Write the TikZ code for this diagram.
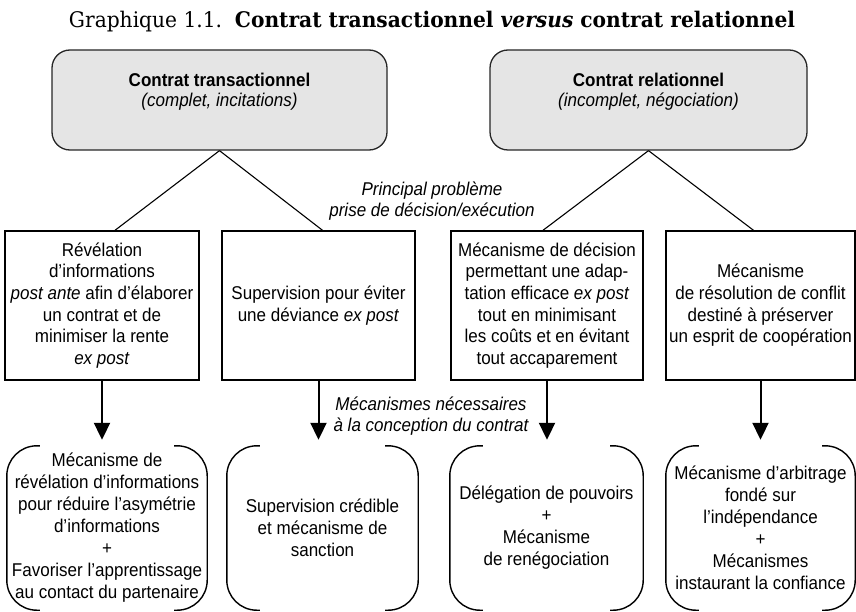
\documentclass[tikz,border=0pt]{standalone}
\usepackage{fontspec}
\setmainfont{Liberation Sans}[FakeStretch=0.92]
\newfontfamily\titlefont{DejaVu Serif}[FakeStretch=0.94]
\usetikzlibrary{arrows.meta}

\begin{document}
\begin{tikzpicture}[x=1pt,y=-1pt,>={Triangle[length=17pt,width=16pt]},
  headbox/.style={draw=black!85,fill=black!10,rounded corners=18pt,line width=1.3pt,
    minimum height=100pt,inner sep=0pt},
  headtext/.style={align=center,font=\fontsize{18.5}{20}\selectfont},
  midbox/.style={draw=black,line width=1.4pt,minimum height=149pt,align=center,
    inner sep=0pt,font=\fontsize{18.5}{21.7}\selectfont},
  endbox/.style={minimum height=164pt,align=center,inner sep=0pt,
    font=\fontsize{18.5}{22}\selectfont},
  note/.style={align=center,font=\itshape\fontsize{18.5}{20.5}\selectfont},
  link/.style={line width=1.1pt},
  flow/.style={->,line width=2pt,shorten >=6pt},
  bracket/.style={line width=1.4pt,rounded corners=30pt}]
  \useasboundingbox (0,0) rectangle (856,612);

  \node[anchor=base,font=\titlefont\fontsize{21.5}{24}\selectfont] (title) at (432,28)
    {Graphique 1.1.\ \ \textbf{Contrat transactionnel \textit{versus} contrat relationnel}};

  % contracts
  \node[headbox,minimum width=335pt] (trans) at (219.5,100) {};
  \node[headtext] (transtext) at ([yshift=8pt]trans.center)
    {\textbf{Contrat transactionnel}\\\textit{(complet, incitations)}};
  \node[headbox,minimum width=317pt] (relat) at (648.5,100) {};
  \node[headtext] (relattext) at ([yshift=8pt]relat.center)
    {\textbf{Contrat relationnel}\\\textit{(incomplet, négociation)}};

  % problems
  \node[midbox,minimum width=194pt] (reveal) at (102,305.5)
    {Révélation\\d’informations\\\textit{post ante} afin d’élaborer\\un contrat et de\\minimiser la rente\\\textit{ex post}};
  \node[midbox,minimum width=193pt] (superv) at (318.5,305.5)
    {Supervision pour éviter\\une déviance \textit{ex post}};
  \node[midbox,minimum width=192pt] (decis) at (547,305.5)
    {Mécanisme de décision\\permettant une adap-\\tation efficace \textit{ex post}\\tout en minimisant\\les coûts et en évitant\\tout accaparement};
  \node[midbox,minimum width=189pt] (confl) at (760.5,305.5)
    {Mécanisme\\de résolution de conflit\\destiné à préserver\\un esprit de coopération};

  \node[note] (probl) at (432,201) {Principal problème\\prise de décision/exécution};

  % mechanisms
  \node[endbox,minimum width=200pt] (revmech) at (107,528)
    {Mécanisme de\\révélation d’informations\\pour réduire l’asymétrie\\d’informations\\+\\Favoriser l’apprentissage\\au contact du partenaire};
  \node[endbox,minimum width=191pt] (supmech) at (322.5,528)
    {Supervision crédible\\et mécanisme de\\sanction};
  \node[endbox,minimum width=193pt] (decmech) at (546.5,528)
    {Délégation de pouvoirs\\+\\Mécanisme\\de renégociation};
  \node[endbox,minimum width=189pt] (arbmech) at (760.5,528)
    {Mécanisme d’arbitrage\\fondé sur\\l’indépendance\\+\\Mécanismes\\instaurant la confiance};

  \node[note] (design) at (431,416) {Mécanismes nécessaires\\à la conception du contrat};

  \draw[link] (trans.south) -- ([xshift=13pt]reveal.north);
  \draw[link] (trans.south) -- ([xshift=4pt]superv.north);
  \draw[link] (relat.south) -- ([xshift=-4pt]decis.north);
  \draw[link] (relat.south) -- ([xshift=-7pt]confl.north);

  \foreach \m/\e in {reveal/revmech,superv/supmech,decis/decmech,confl/arbmech}
    \draw[flow] (\m.south) -- (\m.south |- \e.north);

  \foreach \e in {revmech,supmech,decmech,arbmech}{
    \draw[bracket] ([xshift=33pt]\e.north west) -- (\e.north west)
      -- (\e.south west) -- ([xshift=33pt]\e.south west);
    \draw[bracket] ([xshift=-33pt]\e.north east) -- (\e.north east)
      -- (\e.south east) -- ([xshift=-33pt]\e.south east);
  }
\end{tikzpicture}
\end{document}
